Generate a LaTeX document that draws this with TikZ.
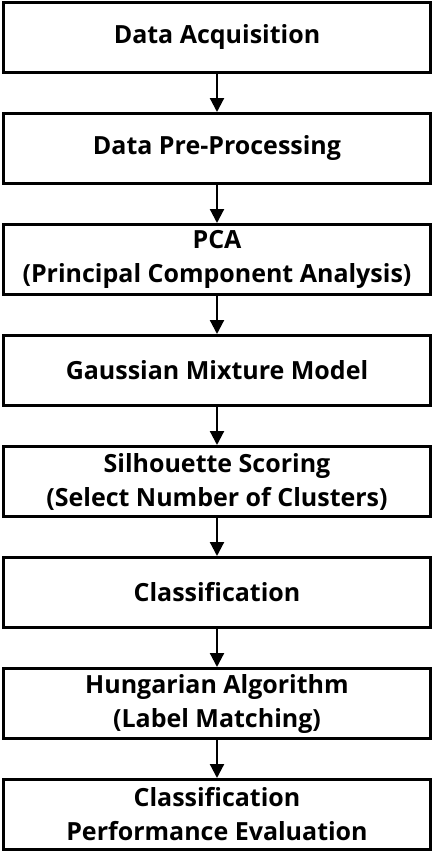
\documentclass[tikz,border=0pt]{standalone}
\usepackage{fontspec}
\setmainfont[Ligatures=NoCommon]{Open Sans}
\usetikzlibrary{arrows.meta,positioning}

\begin{document}
\begin{tikzpicture}[x=1pt, y=1pt,
		stage/.style={draw, line width=2.8pt, rectangle, minimum width=427.2pt, minimum height=70.2pt, align=center, inner sep=0pt, font=\fontsize{25}{34}\selectfont\bfseries},
		flow/.style={line width=2.2pt, -{Triangle[length=14pt, width=14pt]}},
		node distance=38pt]
			\useasboundingbox (0,0) rectangle (434,-857);
			\node[stage] (first) at (217,-37.5) {Data Acquisition};
			\node[stage, below=of first] (second) {Data Pre-Processing};
			\node[stage, below=of second] (third) {PCA\\(Principal Component Analysis)};
			\node[stage, below=of third] (fourth) {Gaussian Mixture Model};
			\node[stage, below=of fourth] (fifth) {Silhouette Scoring\\(Select Number of Clusters)};
			\node[stage, below=of fifth] (sixth) {Classification};
			\node[stage, below=of sixth] (seventh) {Hungarian Algorithm\\(Label Matching)};
			\node[stage, below=of seventh] (eighth) {Classification\\Performance Evaluation};
			\draw[flow] (first) -- (second);
			\draw[flow] (second) -- (third);
			\draw[flow] (third) -- (fourth);
			\draw[flow] (fourth) -- (fifth);
			\draw[flow] (fifth) -- (sixth);
			\draw[flow] (sixth) -- (seventh);
			\draw[flow] (seventh) -- (eighth);
		\end{tikzpicture}
\end{document}
